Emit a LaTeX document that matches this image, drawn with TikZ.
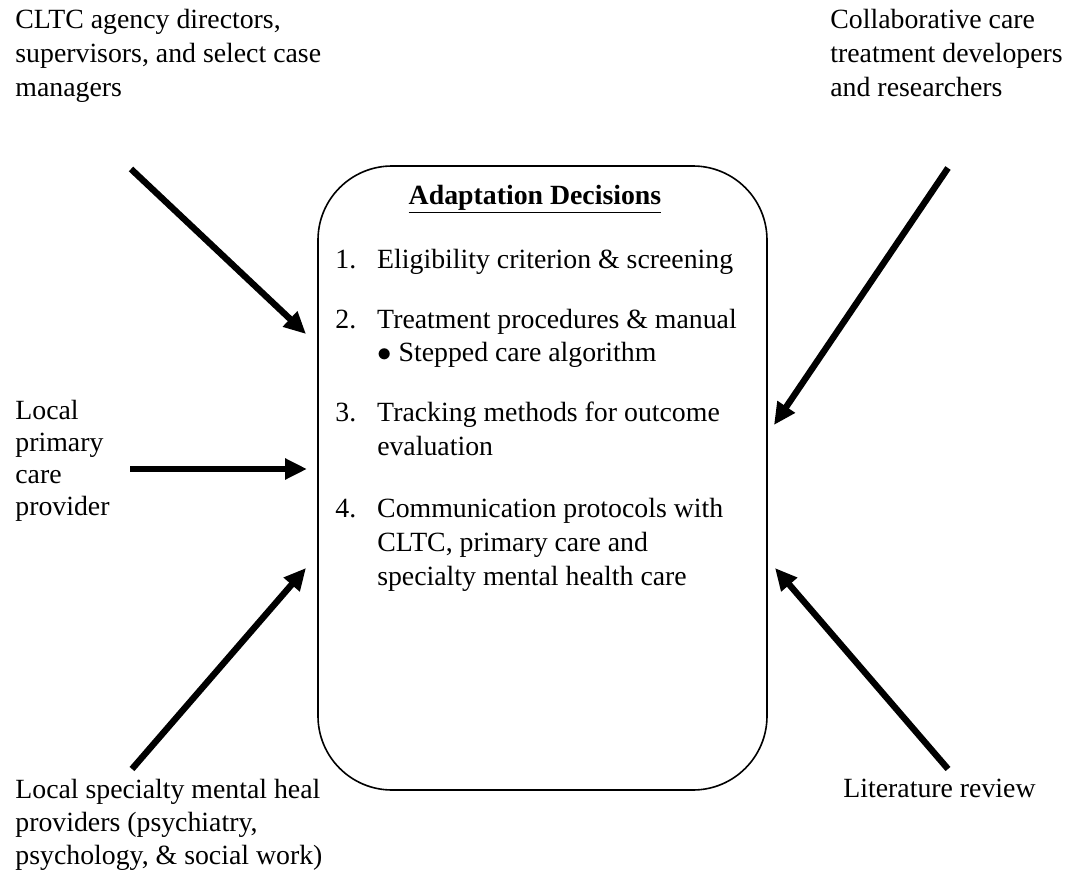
\documentclass[tikz,border=0pt]{standalone}
\usepackage{fontspec}
\setmainfont{Liberation Serif}
\usetikzlibrary{arrows.meta,positioning}

\begin{document}
\begin{tikzpicture}[
 x=0.5pt, y=-0.5pt, >={Triangle[length=11pt,width=10pt]},
 font=\fontsize{13.9}{17}\selectfont,
 lbl/.style={align=left, anchor=north west, inner sep=0pt},
 flow/.style={->, line width=3.2pt}]
\useasboundingbox (0,0) rectangle (1073,878);
% central box
\node[draw, line width=0.8pt, rounded corners=37pt, minimum width=224.5pt, minimum height=312pt] (dec) at (542.5,478) {};
\node[anchor=base, inner sep=0pt] (title) at (535,204) {\textbf{\underline{Adaptation Decisions}}};
\node[anchor=base west, inner sep=0pt] (items) at (335,268) {%
 \begin{tabular}[t]{@{}l@{\hspace{10.5pt}}l@{}}
 1. & Eligibility criterion \& screening\\[13pt]
 2. & Treatment procedures \& manual\\
    & $\bullet$ Stepped care algorithm\\[13pt]
 3. & Tracking methods for outcome\\
    & evaluation\\[14pt]
 4. & Communication protocols with\\
    & CLTC, primary care and\\
    & specialty mental health care
 \end{tabular}};
% stakeholders
\node[lbl] (cltc) at (15,9) {CLTC agency directors,\\supervisors, and select case\\managers};
\node[lbl] (collab) at (830,9) {Collaborative care\\treatment developers\\and researchers};
\node[lbl, font=\fontsize{13.9}{16}\selectfont] (pcp) at (15,400) {Local\\primary\\care\\provider};
\node[lbl, font=\fontsize{13.9}{16.5}\selectfont] (mh) at (15,779) {Local specialty mental heal\\providers (psychiatry,\\psychology, \& social work)};
\node[lbl] (lit) at (843,779) {Literature review};
% arrow ends
\coordinate (s1) at (131,169); \coordinate (e1) at (306,334);
\coordinate (s2) at (130,469); \coordinate (e2) at (307,469);
\coordinate (s3) at (132,769); \coordinate (e3) at (306,568);
\coordinate (s4) at (948,168); \coordinate (e4) at (774,425);
\coordinate (s5) at (948,769); \coordinate (e5) at (775,568);
\foreach \i in {1,...,5} \draw[flow] (s\i) -- (e\i);
\end{tikzpicture}
\end{document}
